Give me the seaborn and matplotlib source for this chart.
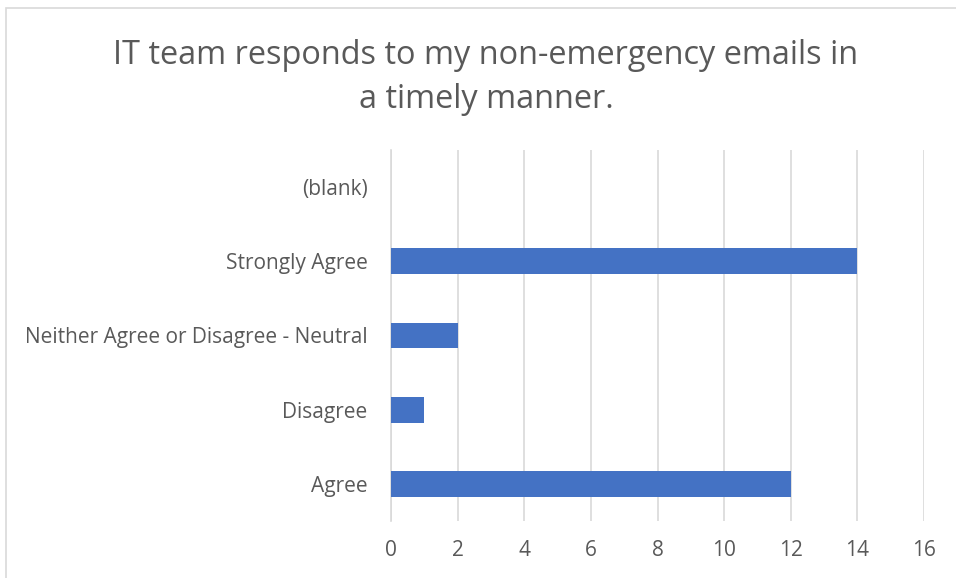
import matplotlib
matplotlib.use("Agg")
import matplotlib.pyplot as plt
import seaborn as sns
import pandas as pd
from matplotlib.patches import Rectangle

# categories listed top to bottom as shown in the chart
categories = ["(blank)", "Strongly Agree", "Neither Agree or Disagree - Neutral", "Disagree", "Agree"]
counts = [0, 14, 2, 1, 12]
x_ticks = [0, 2, 4, 6, 8, 10, 12, 14, 16]

df = pd.DataFrame({"response": categories, "count": counts})

sns.set_style("white")
plt.rcParams['font.family'] = ['Open Sans', 'DejaVu Sans']

text_col = "#595959"
grid_col = "#d9d9d9"
bar_col = "#4472c4"

fig = plt.figure(figsize=(9.56, 5.78), dpi=100)
ax = fig.add_axes([391 / 956, 1 - 521 / 578, (924 - 391) / 956, (521 - 150) / 578])

sns.barplot(data=df, x="count", y="response", order=categories, color=bar_col,
            width=0.35, saturation=1, linewidth=0, ax=ax, zorder=3)

ax.set_xlim(0, 16)
ax.set_xticks(x_ticks)
ax.set_xticklabels([str(t) for t in x_ticks])
ax.set_xlabel("")
ax.set_ylabel("")
ax.grid(axis="x", color=grid_col, linewidth=1.2, zorder=0)
ax.grid(axis="y", visible=False)
for side in ["top", "right", "bottom"]:
    ax.spines[side].set_visible(False)
ax.spines["left"].set_color(grid_col)
ax.spines["left"].set_linewidth(1.2)
ax.tick_params(axis="both", length=0, labelsize=15, colors=text_col)
ax.tick_params(axis="y", pad=17)
ax.tick_params(axis="x", pad=14)

fig.text(486 / 956, 1 - 55 / 578, "IT team responds to my non-emergency emails in",
         ha="center", va="center", fontsize=23.4, color=text_col)
fig.text(486 / 956, 1 - 100 / 578, "a timely manner.",
         ha="center", va="center", fontsize=23.4, color=text_col)

# chart area border
fig.patches.append(Rectangle((6 / 956, -0.1), 1.2, 1 - 8 / 578 + 0.1,
                             transform=fig.transFigure, fill=False,
                             edgecolor=grid_col, linewidth=1.2))

fig.savefig("out.png", dpi=100)
